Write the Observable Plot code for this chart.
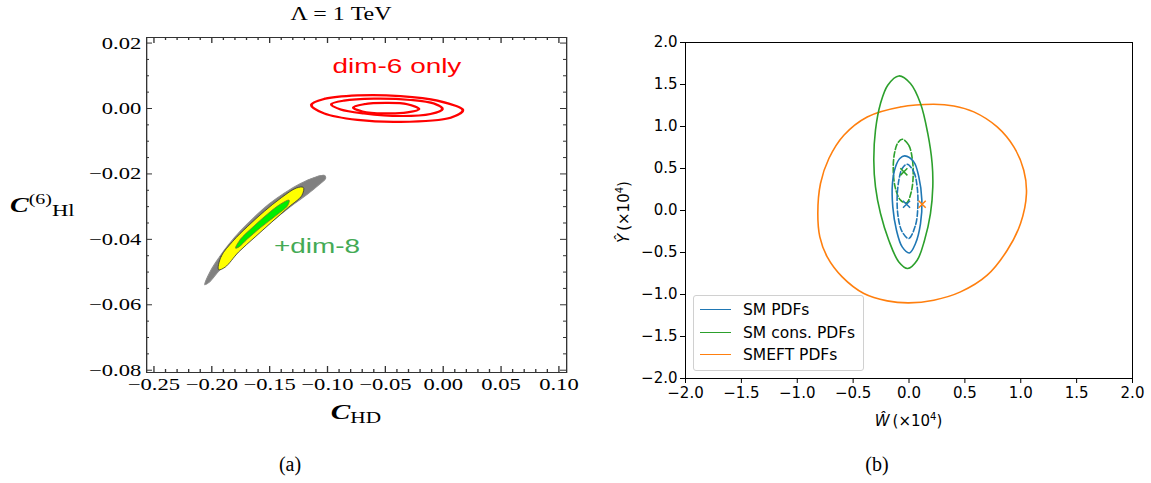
<!DOCTYPE html>
<html>
<head>
<meta charset="utf-8">
<script src="https://cdn.jsdelivr.net/npm/d3@7"></script>
<script src="https://cdn.jsdelivr.net/npm/@observablehq/plot@0.6"></script>
<style>
html,body{margin:0;padding:0;background:#fff;}
#wrap{position:relative;width:1151px;height:483px;overflow:hidden;background:#fff;}
.abs{position:absolute;white-space:nowrap;}
.serif{font-family:"Liberation Serif","Times New Roman",serif;}
.sans{font-family:"DejaVu Sans",sans-serif;}
</style>
</head>
<body>
<div id="wrap"></div>
<script>
// ================= Panel (a) data =================
const aXMajor = [-0.25, -0.20, -0.15, -0.10, -0.05, 0.00, 0.05, 0.10];
const aXMinor = [-0.24,-0.23,-0.22,-0.21,-0.19,-0.18,-0.17,-0.16,-0.14,-0.13,-0.12,-0.11,
                 -0.09,-0.08,-0.07,-0.06,-0.04,-0.03,-0.02,-0.01,0.01,0.02,0.03,0.04,0.06,0.07,0.08,0.09];
const aYMajor = [0.02, 0.00, -0.02, -0.04, -0.06, -0.08];
const aYMinor = [0.015,0.01,0.005,-0.005,-0.01,-0.015,-0.025,-0.03,-0.035,-0.045,-0.05,-0.055,-0.065,-0.07,-0.075];

// dim-6 only contours (red)
const dim6Outer = [[-0.114,0.0011],[-0.103,0.0029],[-0.074,0.0040],[-0.037,0.0038],[-0.005,0.0024],
                   [0.017,-0.0005],[0.0064,-0.0028],[-0.037,-0.0041],[-0.074,-0.0035],[-0.103,-0.0015]];
const dim6Middle = [[-0.0967,0.0013],[-0.0858,0.0024],[-0.060,0.0030],[-0.028,0.0026],[-0.008,0.0015],
                    [-0.0007,-0.0002],[-0.011,-0.0017],[-0.037,-0.0023],[-0.0685,-0.0015],[-0.0886,-0.0003]];
const dim6Inner = [[-0.0777,0.0003],[-0.0685,0.0013],[-0.0483,0.0017],[-0.031,0.0013],
                   [-0.021,-0.0002],[-0.031,-0.0012],[-0.0512,-0.0015],[-0.0699,-0.0009]];

// +dim-8 regions (filled)
const dim8Gray = [[-0.2060,-0.0539],[-0.2010,-0.0496],[-0.1938,-0.0456],[-0.1852,-0.0415],[-0.1751,-0.0374],
                  [-0.1636,-0.0333],[-0.1506,-0.0292],[-0.1376,-0.0259],[-0.1232,-0.0229],[-0.1117,-0.0211],
                  [-0.1031,-0.0204],[-0.1016,-0.0213],[-0.1074,-0.0233],[-0.1174,-0.0262],[-0.1290,-0.0292],
                  [-0.1420,-0.0328],[-0.1563,-0.0369],[-0.1707,-0.0415],[-0.1837,-0.0461],[-0.1938,-0.0496],
                  [-0.2025,-0.0532]];
const dim8Yellow = [[-0.1940,-0.0493],[-0.1919,-0.0452],[-0.1819,-0.0406],[-0.1689,-0.0360],[-0.1545,-0.0314],
                    [-0.1400,-0.0273],[-0.1268,-0.0243],[-0.1210,-0.0241],[-0.1222,-0.0266],[-0.1337,-0.0302],
                    [-0.1481,-0.0347],[-0.1626,-0.0393],[-0.1769,-0.0439],[-0.1885,-0.0485]];
const dim8Green = [[-0.1794,-0.0427],[-0.1751,-0.0399],[-0.1650,-0.0364],[-0.1520,-0.0323],[-0.1405,-0.0292],
                   [-0.1333,-0.0280],[-0.1347,-0.0298],[-0.1448,-0.0328],[-0.1578,-0.0364],[-0.1693,-0.0399],
                   [-0.1765,-0.0423]];

const aNotes = ["dim-6 only", "+dim-8"];
const aNoteX = [-0.0956, -0.1463];
const aNoteY = [0.0110, -0.0443];

// ================= Panel (b) data =================
const bTicks = [-2.0, -1.5, -1.0, -0.5, 0.0, 0.5, 1.0, 1.5, 2.0];
const legendNames = ["SM PDFs", "SM cons. PDFs", "SMEFT PDFs"];

const smefSolid = [[0.222,1.265],[-0.076,1.233],[-0.374,1.114],[-0.583,0.896],[-0.717,0.619],[-0.792,0.321],
                   [-0.816,-0.036],[-0.798,-0.314],[-0.732,-0.552],[-0.598,-0.790],[-0.404,-0.988],[-0.195,-1.076],
                   [-0.002,-1.100],[0.222,-1.068],[0.461,-0.969],[0.700,-0.770],[0.879,-0.473],[0.998,-0.155],
                   [1.051,0.202],[1.027,0.480],[0.938,0.757],[0.789,0.995],[0.580,1.174],[0.401,1.245]];
const consSolid = [[-0.091,1.602],[0.013,1.512],[0.103,1.274],[0.168,0.917],[0.207,0.560],[0.213,0.281],
                   [0.192,-0.036],[0.139,-0.354],[0.073,-0.592],[-0.011,-0.690],[-0.091,-0.612],[-0.181,-0.354],
                   [-0.255,-0.036],[-0.300,0.281],[-0.315,0.599],[-0.300,0.956],[-0.255,1.274],[-0.190,1.492]];
const consDashed = [[-0.061,0.849],[-0.002,0.777],[0.031,0.599],[0.037,0.400],[0.020,0.221],[-0.022,0.090],
                    [-0.076,0.123],[-0.121,0.262],[-0.141,0.480],[-0.130,0.679],[-0.100,0.805]];
const smSolid = [[-0.038,0.650],[0.043,0.579],[0.088,0.400],[0.115,0.123],[0.103,-0.155],[0.058,-0.393],
                 [0.004,-0.505],[-0.061,-0.433],[-0.112,-0.235],[-0.145,0.043],[-0.148,0.321],[-0.121,0.519],
                 [-0.082,0.619]];
const smDashed = [[-0.016,0.551],[0.043,0.460],[0.073,0.281],[0.079,0.043],[0.058,-0.175],[-0.002,-0.333],
                  [-0.061,-0.254],[-0.097,-0.076],[-0.106,0.162],[-0.088,0.381],[-0.061,0.500]];
const bestSeries = ["SM cons. PDFs", "SM PDFs", "SMEFT PDFs"];
const bestX = [-0.046, -0.022, 0.118];
const bestY = [0.460, 0.075, 0.075];

// ================= styling =================
const C_BLUE = "#1f77b4", C_GREEN = "#2ca02c", C_ORANGE = "#ff7f0e";
const seriesColor = {"SM PDFs": C_BLUE, "SM cons. PDFs": C_GREEN, "SMEFT PDFs": C_ORANGE};
const noteColor = ["#ff0000", "#44aa55"];
const closed = "catmull-rom-closed";

const wrap = document.getElementById("wrap");
function addDiv(parent, html, css, cls) {
  const d = document.createElement("div");
  d.className = "abs " + (cls || "");
  d.innerHTML = html;
  Object.assign(d.style, css);
  parent.appendChild(d);
  return d;
}

// ---------- Panel (a) (stretched horizontally like the original graphic) ----------
const S = 1.33;
const W0 = 436;
const leftBox = document.createElement("div");
Object.assign(leftBox.style, {position: "absolute", left: "0px", top: "0px", width: W0 + "px", height: "483px",
  transform: `scaleX(${S})`, transformOrigin: "0 0"});
wrap.appendChild(leftBox);

const fmt2 = d3.format(".2f");
const frameA = "#333";
const aH = 440, aMT = 37, aMB = 68;
const aML = 146 / S, aMR = W0 - 566 / S;
const aFrameH = aH - aMT - aMB, aFrameW = W0 - aML - aMR;
const majX = 6, minX = 3, majY = 6 / S, minY = 3 / S;   // inward tick lengths
const plotA = Plot.plot({
  width: W0, height: aH,
  marginLeft: aML, marginRight: aMR, marginTop: aMT, marginBottom: aMB,
  x: {domain: [-0.2563, 0.1067]},
  y: {domain: [-0.0807, 0.0217]},
  color: {type: "identity"},
  style: {fontFamily: "'Liberation Serif', 'Times New Roman', serif", fontSize: "17px", color: "black",
          background: "transparent", maxWidth: "none", overflow: "visible"},
  marks: [
    Plot.line(dim8Gray, {fill: "#808080", stroke: "#8c8c8c", strokeWidth: 0.8, curve: closed}),
    Plot.line(dim8Yellow, {fill: "#ffff00", stroke: "#333", strokeWidth: 0.7, curve: closed}),
    Plot.line(dim8Green, {fill: "#00ee00", stroke: "#777733", strokeWidth: 0.7, curve: closed}),
    Plot.line(dim6Outer, {stroke: "#ff0000", strokeWidth: 2.2, curve: closed}),
    Plot.line(dim6Middle, {stroke: "#ff0000", strokeWidth: 2.2, curve: closed}),
    Plot.line(dim6Inner, {stroke: "#ff0000", strokeWidth: 2.2, curve: closed}),
    Plot.text(aNotes, {x: aNoteX, y: aNoteY, text: d => d, fill: noteColor, textAnchor: "start",
      lineAnchor: "bottom", fontSize: 21, fontFamily: "'Liberation Sans', Arial, sans-serif"}),
    Plot.frame({stroke: frameA}),
    // inward ticks on all four sides
    Plot.tickX(aXMajor, {x: d => d, stroke: frameA, insetTop: aFrameH - majX}),
    Plot.tickX(aXMinor, {x: d => d, stroke: frameA, insetTop: aFrameH - minX}),
    Plot.tickX(aXMajor, {x: d => d, stroke: frameA, insetBottom: aFrameH - majX}),
    Plot.tickX(aXMinor, {x: d => d, stroke: frameA, insetBottom: aFrameH - minX}),
    Plot.tickY(aYMajor, {y: d => d, stroke: frameA, insetRight: aFrameW - majY}),
    Plot.tickY(aYMinor, {y: d => d, stroke: frameA, insetRight: aFrameW - minY}),
    Plot.tickY(aYMajor, {y: d => d, stroke: frameA, insetLeft: aFrameW - majY}),
    Plot.tickY(aYMinor, {y: d => d, stroke: frameA, insetLeft: aFrameW - minY}),
    // tick labels
    Plot.axisX({anchor: "bottom", ticks: aXMajor, tickSize: 0, tickPadding: 5, tickFormat: fmt2, label: null}),
    Plot.axisY({anchor: "left", ticks: aYMajor, tickSize: 0, tickPadding: 4, tickFormat: fmt2, label: null})
  ]
});
Object.assign(plotA.style, {position: "absolute", left: "0px", top: "0px"});
leftBox.appendChild(plotA);

const cx = 356 / S, tx = 341 / S;
addDiv(leftBox, "Λ = 1 TeV", {left: (tx - 150) + "px", width: "300px", textAlign: "center", top: "5px",
  fontSize: "18px", lineHeight: "18px"}, "serif");
addDiv(leftBox, '<i style="font-weight:bold">C</i><span style="font-size:16px;position:relative;top:4px">HD</span>',
  {left: (cx - 150) + "px", width: "300px", textAlign: "center", top: "401px", fontSize: "22px", lineHeight: "22px"}, "serif");
addDiv(leftBox, '<i style="font-weight:bold">C</i><span style="font-size:15px;position:relative;top:-8px">(6)</span><span style="font-size:17px;position:relative;top:4px">Hl</span>',
  {left: (10 / S) + "px", top: "194px", fontSize: "21px", lineHeight: "22px"}, "serif");

// ---------- Panel (b) ----------
const fmt1 = d3.format(".1f");
const plotB = Plot.plot({
  width: 571, height: 440,
  marginLeft: 105, marginRight: 19, marginTop: 42, marginBottom: 62,
  x: {domain: [-2, 2]},
  y: {domain: [-2, 2]},
  color: {type: "identity"},
  style: {fontFamily: "'DejaVu Sans', sans-serif", fontSize: "15px", color: "black",
          background: "transparent", maxWidth: "none", overflow: "visible"},
  marks: [
    Plot.line(smefSolid, {stroke: C_ORANGE, strokeWidth: 1.6, curve: closed}),
    Plot.line(consSolid, {stroke: C_GREEN, strokeWidth: 1.6, curve: closed}),
    Plot.line(consDashed, {stroke: C_GREEN, strokeWidth: 1.6, strokeDasharray: "5.5,2.4", curve: closed}),
    Plot.line(smSolid, {stroke: C_BLUE, strokeWidth: 1.6, curve: closed}),
    Plot.line(smDashed, {stroke: C_BLUE, strokeWidth: 1.6, strokeDasharray: "5.5,2.4", curve: closed}),
    Plot.dot(bestSeries, {x: bestX, y: bestY, stroke: d => seriesColor[d], symbol: "times", r: 3.3, strokeWidth: 1.5}),
    Plot.frame({stroke: "black", strokeWidth: 1}),
    Plot.axisX({anchor: "bottom", ticks: bTicks, tickSize: 5, tickPadding: 4, tickFormat: fmt1, label: null}),
    Plot.axisY({anchor: "left", ticks: bTicks, tickSize: 5, tickPadding: 3, tickFormat: fmt1, label: null})
  ]
});
Object.assign(plotB.style, {position: "absolute", left: "580px", top: "0px"});
wrap.appendChild(plotB);

// axis labels (b)
addDiv(wrap, '<i>Ŵ</i>&#8201;(×10<sup style="font-size:10px">4</sup>)',
  {left: (908.5 - 100) + "px", width: "200px", textAlign: "center", top: "407px", fontSize: "15px", lineHeight: "20px"}, "sans");
addDiv(wrap, '<i>Ŷ</i>&#8201;(×10<sup style="font-size:10px">4</sup>)',
  {left: (621.7 - 100) + "px", width: "200px", textAlign: "center", top: "200px", fontSize: "15px", lineHeight: "20px",
   transform: "rotate(-90deg)"}, "sans");

// legend (b)
const legend = addDiv(wrap, "", {left: "693px", top: "295px", width: "171px", height: "76px",
  border: "1px solid #d0d0d0", borderRadius: "3px", background: "rgba(255,255,255,0.8)", boxSizing: "border-box"});
legendNames.forEach((name, i) => {
  const yc = 14 + i * 22.5;
  addDiv(legend, "", {left: "6px", top: (yc - 1) + "px", width: "31px", height: "0px",
    borderTop: "1.6px solid " + seriesColor[name]});
  addDiv(legend, name, {left: "49px", top: (yc - 10) + "px", fontSize: "15.5px", lineHeight: "20px", color: "black"}, "sans");
});

// captions
addDiv(wrap, "(a)", {left: "240px", width: "100px", textAlign: "center", top: "454px", fontSize: "20px", lineHeight: "20px"}, "serif");
addDiv(wrap, "(b)", {left: "827px", width: "100px", textAlign: "center", top: "454px", fontSize: "20px", lineHeight: "20px"}, "serif");
</script>
</body>
</html>
